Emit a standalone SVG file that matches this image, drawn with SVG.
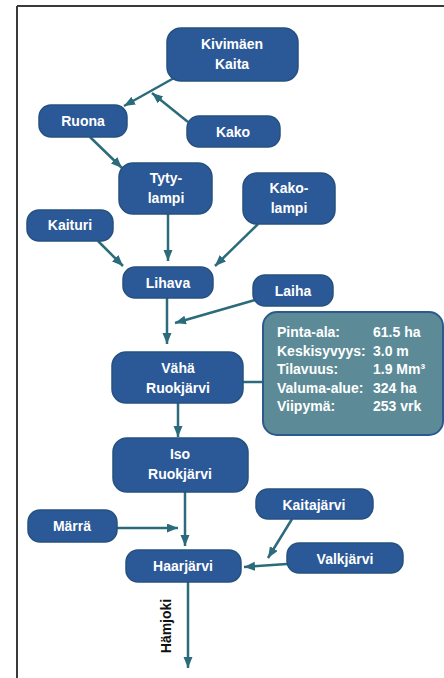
<svg xmlns="http://www.w3.org/2000/svg" width="444" height="678" viewBox="0 0 444 678">
<style>
.n{fill:#2b5896;stroke:#26517f;stroke-width:1.5}
.t{font-family:"Liberation Sans",Arial,sans-serif;font-weight:bold;font-size:14px;fill:#fff;text-anchor:middle}
.c line{stroke:#2b6b7b;stroke-width:2.5;fill:none}
.a{marker-end:url(#ah)}
.i{font-family:"Liberation Sans",Arial,sans-serif;font-weight:bold;font-size:14px;fill:#fff}
</style>
<defs>
<marker id="ah" markerUnits="userSpaceOnUse" markerWidth="12" markerHeight="10" refX="11" refY="4.5" orient="auto">
<path d="M0,0 L11,4.5 L0,9 z" fill="#2b6b7b"/>
</marker>
</defs>
<rect width="444" height="678" fill="#fff"/>
<g id="frame" stroke="#3a3a3a" stroke-width="2" fill="none">
<line x1="17" y1="6" x2="444" y2="6"/>
<line x1="17" y1="6" x2="17" y2="678"/>
</g>
<g class="c" id="connectors">
<line class="a" x1="174" y1="78" x2="124" y2="106"/>
<line class="a" x1="188" y1="122" x2="152" y2="93"/>
<line class="a" x1="90" y1="137" x2="122" y2="168"/>
<line class="a" x1="168" y1="214" x2="168" y2="261"/>
<line class="a" x1="258" y1="224" x2="215" y2="266"/>
<line class="a" x1="98" y1="241" x2="123" y2="266"/>
<line class="a" x1="167" y1="298" x2="167" y2="344"/>
<line class="a" x1="255" y1="300" x2="175" y2="323"/>
<line x1="243" y1="382" x2="264" y2="382"/>
<line class="a" x1="178" y1="403" x2="178" y2="437"/>
<line class="a" x1="185" y1="492" x2="185" y2="546"/>
<line class="a" x1="117" y1="528" x2="178" y2="528"/>
<line class="a" x1="292" y1="519" x2="268" y2="558"/>
<line class="a" x1="287" y1="564" x2="244" y2="567"/>
<line class="a" x1="188" y1="582" x2="188" y2="668"/>
</g>
<g id="kivimaen"><rect class="n" x="167" y="28" width="131" height="53" rx="14"/><text class="t" x="232" y="49">Kivimäen</text><text class="t" x="232" y="69">Kaita</text></g>
<g id="ruona"><rect class="n" x="39" y="105" width="88" height="32" rx="12"/><text class="t" x="83" y="126">Ruona</text></g>
<g id="kako"><rect class="n" x="187" y="116" width="93" height="31" rx="12"/><text class="t" x="233" y="137">Kako</text></g>
<g id="tytylampi"><rect class="n" x="119" y="163" width="93" height="51" rx="14"/><text class="t" x="166" y="183">Tyty-</text><text class="t" x="166" y="203">lampi</text></g>
<g id="kakolampi"><rect class="n" x="243" y="173" width="92" height="51" rx="14"/><text class="t" x="289" y="193">Kako-</text><text class="t" x="289" y="213">lampi</text></g>
<g id="kaituri"><rect class="n" x="27" y="210" width="86" height="31" rx="12"/><text class="t" x="70" y="230">Kaituri</text></g>
<g id="lihava"><rect class="n" x="123" y="267" width="90" height="31" rx="12"/><text class="t" x="168" y="288">Lihava</text></g>
<g id="laiha"><rect class="n" x="253" y="275" width="80" height="31" rx="12"/><text class="t" x="293" y="296">Laiha</text></g>
<g id="vaha"><rect class="n" x="112" y="352" width="131" height="51" rx="14"/><text class="t" x="178" y="373">Vähä</text><text class="t" x="178" y="393">Ruokjärvi</text></g>
<g id="info">
<rect x="263" y="312" width="180" height="123" rx="14" fill="#5c8b97" stroke="#2d5a8c" stroke-width="2"/>
<text class="i" x="277" y="337">Pinta-ala:</text><text class="i" x="373" y="337">61.5 ha</text>
<text class="i" x="277" y="355.5">Keskisyvyys:</text><text class="i" x="373" y="355.5">3.0 m</text>
<text class="i" x="277" y="374">Tilavuus:</text><text class="i" x="373" y="374">1.9 Mm³</text>
<text class="i" x="277" y="392.5">Valuma-alue:</text><text class="i" x="373" y="392.5">324 ha</text>
<text class="i" x="277" y="411">Viipymä:</text><text class="i" x="373" y="411">253 vrk</text>
</g>
<g id="iso"><rect class="n" x="113" y="438" width="135" height="54" rx="14"/><text class="t" x="180" y="459">Iso</text><text class="t" x="180" y="479">Ruokjärvi</text></g>
<g id="kaitajarvi"><rect class="n" x="256" y="489" width="117" height="30" rx="12"/><text class="t" x="314" y="510">Kaitajärvi</text></g>
<g id="marra"><rect class="n" x="28" y="510" width="89" height="32" rx="12"/><text class="t" x="72" y="531">Märrä</text></g>
<g id="haarjarvi"><rect class="n" x="126" y="550" width="115" height="32" rx="12"/><text class="t" x="183" y="571">Haarjärvi</text></g>
<g id="valkjarvi"><rect class="n" x="287" y="543" width="116" height="30" rx="12"/><text class="t" x="345" y="564">Valkjärvi</text></g>
<text x="0" y="0" transform="translate(171,626) rotate(-90)" font-family="Liberation Sans,Arial,sans-serif" font-weight="bold" font-size="14px" fill="#111" text-anchor="middle">Hämjoki</text>
</svg>
